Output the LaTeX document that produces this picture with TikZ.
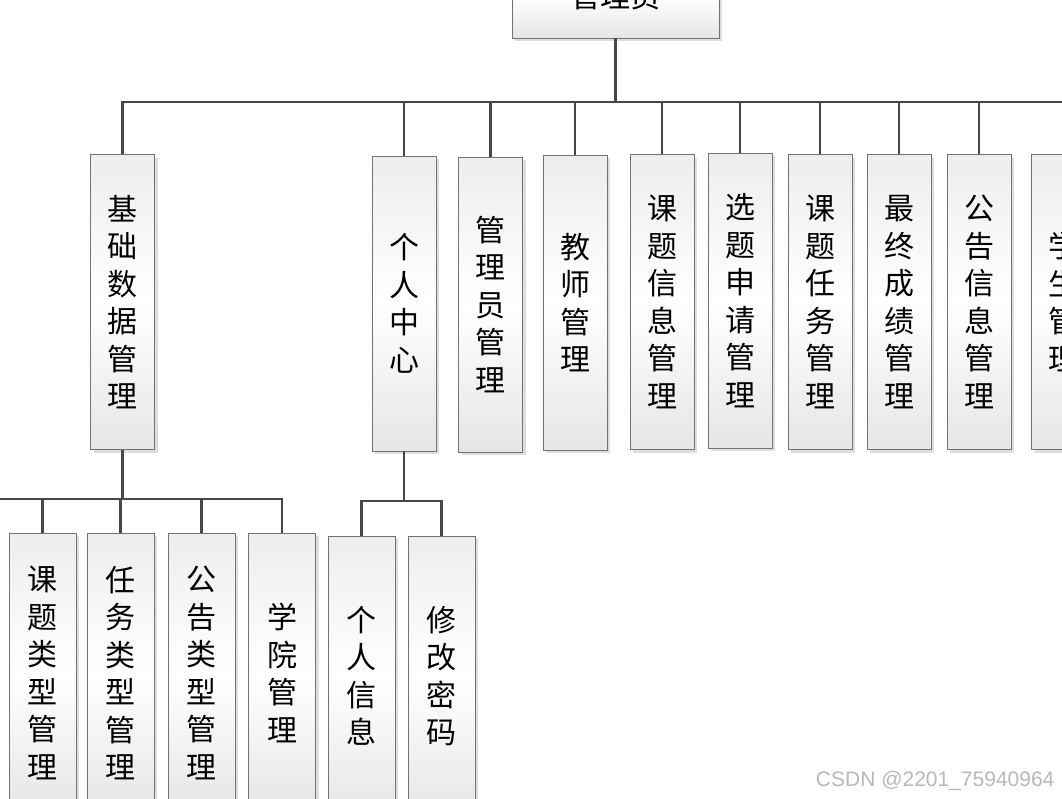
\documentclass[tikz,border=0pt]{standalone}
\usepackage{fontspec}
\newfontfamily\cjk{Noto Sans CJK SC}
\newfontfamily\marksans{Liberation Sans}
\usetikzlibrary{shadows}
\begin{document}
\begin{tikzpicture}[x=1pt,y=-1pt]
    \tikzstyle{box}=[draw=black!55, line width=0.9pt, inner sep=0pt,
      top color=black!7, bottom color=black!10, middle color=white,
      drop shadow={shadow xshift=3pt, shadow yshift=-3pt, fill=black!13, opacity=1},
      font=\cjk\fontsize{30}{37.5}\selectfont, align=center]
    \tikzstyle{tall}=[box, minimum width=64, minimum height=295]
    \tikzstyle{leaf}=[box, minimum width=67, minimum height=280]
    \tikzstyle{wire}=[draw=black!72, line width=2.8pt]

    \useasboundingbox (0,0) rectangle (1062,798);
    \clip (0,0) rectangle (1062,798);

    % top
    \node[box, minimum width=207, minimum height=84] (admin) at (615.5,-4) {管理员};

    % first level
    \node[tall] (base) at (122.5,302) {基\\础\\数\\据\\管\\理};
    \node[tall] (center) at (404,303.5) {个\\人\\中\\心};
    \node[tall] (adminmgr) at (490.5,304.5) {管\\理\\员\\管\\理};
    \node[tall] (teacher) at (575,302.5) {教\\师\\管\\理};
    \node[tall] (topic) at (662,302) {课\\题\\信\\息\\管\\理};
    \node[tall] (apply) at (740,300.5) {选\\题\\申\\请\\管\\理};
    \node[tall] (task) at (820,302) {课\\题\\任\\务\\管\\理};
    \node[tall] (grade) at (899,302) {最\\终\\成\\绩\\管\\理};
    \node[tall] (notice) at (979,302) {公\\告\\信\\息\\管\\理};
    \node[tall] (student) at (1063,302) {学\\生\\管\\理};

    % second level
    \node[leaf] (topictype) at (42.5,673) {课\\题\\类\\型\\管\\理};
    \node[leaf] (tasktype) at (120.5,673) {任\\务\\类\\型\\管\\理};
    \node[leaf] (noticetype) at (201.5,673) {公\\告\\类\\型\\管\\理};
    \node[leaf] (college) at (282,673) {学\\院\\管\\理};
    \node[leaf] (info) at (361.5,676) {个\\人\\信\\息};
    \node[leaf] (pwd) at (441.5,676) {修\\改\\密\\码};

    % connectors
    \coordinate (bus1) at (615.5,102);
    \draw[wire] (admin.south) -- (bus1);
    \foreach \n in {base,center,adminmgr,teacher,topic,apply,task,grade,notice,student}
      \draw[wire] (bus1) -| (\n.north);

    \coordinate (bus2) at (122.5,499);
    \coordinate (bus2w) at (-10,499);
    \draw[wire] (base.south) -- (bus2);
    \draw[wire] (bus2) -- (bus2w);
    \foreach \n in {topictype,tasktype,noticetype,college}
      \draw[wire] (bus2) -| (\n.north);

    \coordinate (bus3) at (404,501);
    \draw[wire] (center.south) -- (bus3);
    \foreach \n in {info,pwd}
      \draw[wire] (bus3) -| (\n.north);

    \node[font=\marksans\fontsize{21}{21}\selectfont, text=black!28, anchor=east] (mark) at (1058,781) {CSDN @2201\_75940964};
\end{tikzpicture}
\end{document}
